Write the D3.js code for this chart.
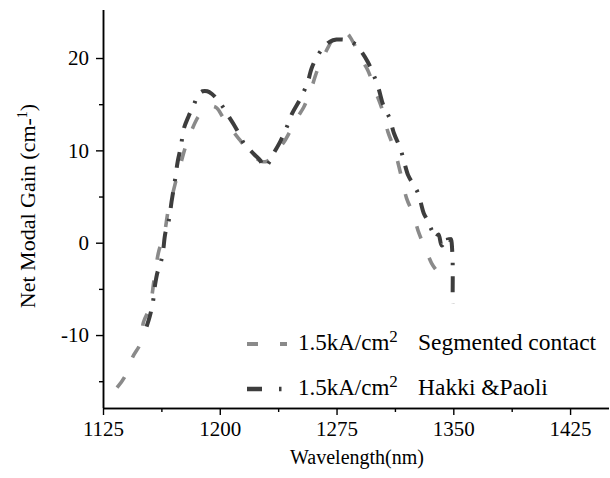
<!DOCTYPE html>
<html>
<head>
<meta charset="utf-8">
<script src="https://cdn.jsdelivr.net/npm/d3@7"></script>
<style>
  body { margin: 0; background: #fff; }
  text { font-family: "Liberation Serif", "Times New Roman", serif; fill: #000; }
</style>
</head>
<body>
<svg id="chart" width="610" height="478"></svg>
<script>
// Net modal gain spectra at 1.5 kA/cm^2
const segWavelength = [1134, 1139, 1144, 1149, 1151, 1155, 1158, 1161, 1164, 1167, 1169, 1172, 1175, 1178, 1182,
  1186, 1190, 1194, 1198, 1202, 1207, 1213, 1218, 1223, 1227, 1230, 1234, 1238, 1242, 1246.5, 1250, 1254, 1258,
  1262.5, 1266.5, 1270, 1274, 1278, 1282, 1286, 1290, 1295, 1300, 1304, 1308, 1312, 1316, 1320, 1324, 1328,
  1332, 1336, 1340, 1344, 1347];
const segGain = [-15.7, -14.5, -12.4, -10.9, -8.6, -7.0, -3.8, -0.8, 0.6, 3.6, 4.8, 6.8, 8.6, 10.4, 12.2,
  13.6, 14.5, 14.8, 14.6, 13.6, 12.4, 11.1, 10.0, 9.2, 8.8, 8.8, 9.4, 10.2, 11.1, 12.5, 13.6, 14.7, 16.3,
  18.6, 20.1, 21.3, 22.4, 22.8, 22.6, 21.6, 20.1, 18.7, 16.4, 14.6, 12.0, 10.2, 7.6, 4.8, 3.2, 1.0,
  -0.6, -2.2, -3.2, -4.1, -4.5];

const hpWavelength = [1153, 1155, 1157, 1158.5, 1160, 1162, 1163.5, 1165, 1167.5, 1169, 1171, 1173, 1175, 1177,
  1180, 1183.5, 1186, 1189, 1192, 1195, 1198, 1202, 1206, 1209, 1213, 1216, 1219, 1222.5, 1226, 1228, 1230,
  1234, 1239, 1243, 1246.5, 1251.5, 1256.5, 1259, 1263, 1267, 1271, 1275, 1279, 1283, 1287, 1291, 1295,
  1298.5, 1302, 1305, 1309, 1312, 1316, 1318.5, 1321, 1324, 1327, 1329, 1331, 1333.5, 1336, 1338.5, 1340.5,
  1342.5, 1344.5, 1346, 1347.5, 1348.5, 1349.5, 1349.5];
const hpGain = [-9.1, -8.0, -6.5, -4.5, -3.2, -2.2, -1.0, 1.0, 2.6, 4.4, 6.5, 8.8, 10.4, 12.4,
  13.7, 15.0, 16.0, 16.4, 16.4, 16.1, 15.6, 14.7, 13.6, 12.8, 11.6, 10.6, 10.1, 9.5, 8.9, 8.2, 8.3,
  9.5, 11.0, 12.5, 14.0, 15.5, 17.4, 18.9, 20.3, 21.2, 21.8, 22.0, 22.0, 21.9, 21.5, 20.7, 19.6,
  18.3, 16.7, 14.9, 13.5, 11.8, 10.2, 8.7, 7.3, 6.4, 5.5, 4.4, 3.2, 2.4, 1.4, 0.5, 0.9,
  -0.3, 0.1, 0.7, -0.4, 0.4, -1.6, -6.6];

const xTicks = [1125, 1200, 1275, 1350, 1425];
const xMinorTicks = [1162.5, 1237.5, 1312.5, 1387.5];
const yTicks = [-10, 0, 10, 20];
const yMinorTicks = [-15, -5, 5, 15];

const legendLabels = ["Segmented contact", "Hakki &Paoli"];

const svg = d3.select("#chart");

const x = d3.scaleLinear().domain([1125, 1450]).range([103, 609]);
const y = d3.scaleLinear().domain([-17.9, 25.2]).range([408, 10]);

const plainNumber = d => String(d);

// axes
const xAxis = svg.append("g").attr("class", "x-axis").attr("transform", `translate(0,${y.range()[0]})`)
  .call(d3.axisBottom(x).tickValues(xTicks).tickSize(7).tickPadding(6).tickFormat(plainNumber));
svg.append("g").attr("class", "x-axis").attr("transform", `translate(0,${y.range()[0]})`)
  .call(d3.axisBottom(x).tickValues(xMinorTicks).tickSize(4).tickFormat(""));
const yAxis = svg.append("g").attr("class", "y-axis").attr("transform", `translate(${x.range()[0]},0)`)
  .call(d3.axisLeft(y).tickValues(yTicks).tickSize(7).tickPadding(7).tickFormat(plainNumber));
svg.append("g").attr("class", "y-axis").attr("transform", `translate(${x.range()[0]},0)`)
  .call(d3.axisLeft(y).tickValues(yMinorTicks).tickSize(4).tickFormat(""));

svg.selectAll(".domain").attr("stroke", "#000").attr("stroke-width", 1.5);
svg.selectAll(".tick line").attr("stroke", "#000").attr("stroke-width", 1.4);
// plain axis lines without outer end ticks
svg.selectAll(".x-axis .domain").attr("d", `M${x.range()[0]},0.5H${x.range()[1]}`);
svg.selectAll(".y-axis .domain").attr("d", `M0.5,${y.range()[0]}V${y.range()[1]}`);
svg.selectAll(".tick text")
  .style("font-family", '"Liberation Serif", serif')
  .style("font-size", "21px")
  .attr("fill", "#000");

// axis titles
svg.append("text")
  .attr("x", 357).attr("y", 464)
  .attr("text-anchor", "middle")
  .style("font-size", "20px")
  .text("Wavelength(nm)");

const yTitle = svg.append("text")
  .attr("transform", "translate(35,206) rotate(-90)")
  .attr("text-anchor", "middle")
  .style("font-size", "22px");
yTitle.append("tspan").text("Net Modal Gain (cm-");
yTitle.append("tspan").attr("dy", -8).style("font-size", "14px").text("1");
yTitle.append("tspan").attr("dy", 8).text(")");

// curves
const line = d3.line()
  .x(d => x(d[0]))
  .y(d => y(d[1]))
  .curve(d3.curveCatmullRom.alpha(0.5));

const seg = segWavelength.map((w, i) => [w, segGain[i]]);
const hp = hpWavelength.map((w, i) => [w, hpGain[i]]);

const styles = [
  { color: "#8a8a8a", width: 3.6, dash: "13,21", legendDash: "11,22" },
  { color: "#3d3d3d", width: 4, dash: "16,11,2.5,11", legendDash: "15,17,2.5,12" }
];

svg.append("path").datum(seg)
  .attr("fill", "none").attr("stroke", styles[0].color)
  .attr("stroke-width", styles[0].width).attr("stroke-dasharray", styles[0].dash)
  .attr("d", line);

svg.append("path").datum(hp)
  .attr("fill", "none").attr("stroke", styles[1].color)
  .attr("stroke-width", styles[1].width).attr("stroke-dasharray", styles[1].dash)
  .attr("d", line);

// legend
const legendRows = [344, 389];
legendLabels.forEach((lab, i) => {
  const g = svg.append("g");
  g.append("line")
    .attr("x1", 247).attr("x2", 287)
    .attr("y1", legendRows[i]).attr("y2", legendRows[i])
    .attr("stroke", styles[i].color).attr("stroke-width", styles[i].width + 0.5)
    .attr("stroke-dasharray", styles[i].legendDash);
  const t = g.append("text").attr("x", 298).attr("y", legendRows[i] + 6).style("font-size", "23px");
  t.append("tspan").text("1.5kA/cm");
  t.append("tspan").attr("dy", -8).style("font-size", "17px").text("2");
  g.append("text").attr("x", 418).attr("y", legendRows[i] + 6).style("font-size", "23.5px").text(lab);
});
</script>
</body>
</html>
